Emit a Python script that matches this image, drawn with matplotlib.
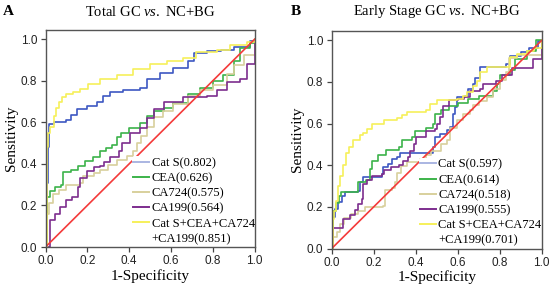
import matplotlib.pyplot as plt
from matplotlib.lines import Line2D

plt.rcParams['font.family'] = 'Liberation Serif'
plt.rcParams['mathtext.fontset'] = 'custom'
plt.rcParams['mathtext.rm'] = 'Liberation Serif'
plt.rcParams['mathtext.it'] = 'Liberation Serif:italic'

# ---- Panel A: Total GC vs. NC+BG  (1-specificity, sensitivity) ----
a_cats_x = [0, 0.005, 0.005, 0.01, 0.015, 0.04, 0.10, 0.12, 0.15, 0.20, 0.245, 0.275, 0.31, 0.37,
            0.45, 0.485, 0.55, 0.61, 0.68, 0.71, 0.775, 0.84, 0.90, 0.98, 1.0]
a_cats_y = [0, 0, 0.31, 0.48, 0.59, 0.60, 0.61, 0.635, 0.665, 0.68, 0.70, 0.725, 0.745, 0.755,
            0.765, 0.81, 0.84, 0.86, 0.895, 0.935, 0.945, 0.95, 0.965, 0.99, 1.0]

a_cea_x = [0, 0.005, 0.02, 0.045, 0.075, 0.085, 0.12, 0.155, 0.19, 0.225, 0.26, 0.29, 0.32, 0.34,
           0.36, 0.40, 0.45, 0.485, 0.52, 0.565, 0.61, 0.68, 0.74, 0.80, 0.85, 0.90, 0.93, 0.98, 1.0]
a_cea_y = [0, 0.24, 0.27, 0.29, 0.30, 0.36, 0.37, 0.39, 0.415, 0.435, 0.46, 0.475, 0.49, 0.53,
           0.55, 0.575, 0.595, 0.63, 0.655, 0.67, 0.695, 0.735, 0.765, 0.80, 0.83, 0.895, 0.96, 0.98, 1.0]

a_ca724_x = [0, 0.005, 0.015, 0.035, 0.065, 0.10, 0.165, 0.18, 0.23, 0.26, 0.30, 0.34, 0.39, 0.42,
             0.44, 0.455, 0.485, 0.52, 0.56, 0.61, 0.68, 0.74, 0.80, 0.87, 0.90, 0.95, 1.0]
a_ca724_y = [0, 0.16, 0.21, 0.255, 0.275, 0.30, 0.31, 0.34, 0.358, 0.37, 0.395, 0.42, 0.44, 0.46,
             0.50, 0.535, 0.58, 0.625, 0.655, 0.69, 0.725, 0.755, 0.78, 0.835, 0.875, 0.925, 1.0]

a_ca199_x = [0, 0.02, 0.045, 0.07, 0.10, 0.126, 0.157, 0.165, 0.20, 0.23, 0.26, 0.28, 0.31, 0.35,
             0.365, 0.405, 0.45, 0.485, 0.52, 0.565, 0.66, 0.775, 0.82, 0.87, 0.93, 0.965, 1.0]
a_ca199_y = [0, 0.13, 0.16, 0.195, 0.225, 0.242, 0.29, 0.33, 0.368, 0.385, 0.39, 0.41, 0.435, 0.46,
             0.50, 0.55, 0.575, 0.62, 0.665, 0.70, 0.72, 0.725, 0.755, 0.795, 0.81, 0.88, 1.0]

a_comb_x = [0, 0.005, 0.008, 0.013, 0.02, 0.04, 0.05, 0.065, 0.08, 0.10, 0.13, 0.165, 0.205, 0.26,
            0.34, 0.42, 0.50, 0.58, 0.66, 0.72, 0.82, 0.885, 0.965, 1.0]
a_comb_y = [0, 0.30, 0.48, 0.55, 0.58, 0.63, 0.67, 0.70, 0.72, 0.735, 0.745, 0.76, 0.785, 0.81,
            0.83, 0.855, 0.88, 0.895, 0.91, 0.94, 0.95, 0.975, 0.985, 1.0]

a_auc = [0.802, 0.626, 0.575, 0.564, 0.851]

# ---- Panel B: Early Stage GC vs. NC+BG ----
b_cats_x = [0, 0.005, 0.008, 0.015, 0.03, 0.048, 0.063, 0.125, 0.135, 0.15, 0.238, 0.246, 0.27,
            0.286, 0.31, 0.325, 0.476, 0.484, 0.49, 0.516, 0.548, 0.563, 0.579, 0.587, 0.595, 0.635,
            0.65, 0.674, 0.682, 0.706, 0.754, 0.83, 0.85, 0.90, 0.94, 0.98, 1.0]
b_cats_y = [0, 0.11, 0.15, 0.19, 0.225, 0.25, 0.27, 0.275, 0.32, 0.345, 0.36, 0.39, 0.405,
            0.43, 0.44, 0.46, 0.46, 0.49, 0.535, 0.55, 0.567, 0.583, 0.647, 0.68, 0.726, 0.734,
            0.766, 0.79, 0.82, 0.87, 0.87, 0.885, 0.925, 0.945, 0.965, 0.995, 1.0]

b_cea_x = [0, 0.005, 0.008, 0.02, 0.035, 0.045, 0.12, 0.127, 0.165, 0.18, 0.19, 0.22, 0.26, 0.32,
           0.335, 0.38, 0.395, 0.45, 0.48, 0.49, 0.52, 0.56, 0.60, 0.65, 0.70, 0.77, 0.785, 0.80,
           0.85, 0.875, 0.93, 0.975, 1.0]
b_cea_y = [0, 0.14, 0.18, 0.22, 0.25, 0.27, 0.27, 0.32, 0.33, 0.38, 0.42, 0.45, 0.475, 0.49,
           0.52, 0.535, 0.565, 0.58, 0.60, 0.645, 0.665, 0.685, 0.70, 0.72, 0.735, 0.755, 0.79, 0.835,
           0.86, 0.91, 0.95, 1.0, 1.0]

b_ca724_x = [0, 0.005, 0.025, 0.04, 0.06, 0.09, 0.125, 0.16, 0.245, 0.252, 0.285, 0.30, 0.31, 0.33,
             0.36, 0.42, 0.45, 0.475, 0.52, 0.55, 0.563, 0.595, 0.627, 0.66, 0.675, 0.70, 0.74, 0.77,
             0.80, 0.83, 0.845, 0.88, 0.97, 1.0]
b_ca724_y = [0, 0.055, 0.08, 0.12, 0.145, 0.165, 0.18, 0.20, 0.205, 0.28, 0.29, 0.32, 0.365, 0.395,
             0.415, 0.43, 0.45, 0.47, 0.50, 0.52, 0.58, 0.615, 0.645, 0.665, 0.69, 0.71, 0.73, 0.765,
             0.81, 0.85, 0.915, 0.93, 0.93, 1.0]

b_ca199_x = [0, 0.005, 0.045, 0.055, 0.085, 0.11, 0.127, 0.143, 0.15, 0.167, 0.19, 0.24, 0.25, 0.28,
             0.32, 0.34, 0.365, 0.375, 0.39, 0.40, 0.45, 0.49, 0.50, 0.515, 0.53, 0.56, 0.60, 0.63,
             0.66, 0.705, 0.72, 0.78, 0.81, 0.86, 0.93, 0.96, 1.0]
b_ca199_y = [0, 0.10, 0.10, 0.14, 0.16, 0.184, 0.216, 0.24, 0.31, 0.328, 0.35, 0.36, 0.375, 0.39,
             0.40, 0.42, 0.44, 0.47, 0.50, 0.535, 0.565, 0.575, 0.60, 0.63, 0.685, 0.715, 0.72, 0.73,
             0.755, 0.765, 0.79, 0.805, 0.835, 0.865, 0.865, 0.91, 1.0]

b_comb_x = [0, 0.005, 0.01, 0.02, 0.03, 0.04, 0.055, 0.07, 0.08, 0.10, 0.135, 0.15, 0.17, 0.19,
            0.25, 0.31, 0.335, 0.36, 0.45, 0.47, 0.50, 0.595, 0.627, 0.643, 0.674, 0.69, 0.706,
            0.738, 0.833, 0.85, 0.88, 0.93, 0.965, 1.0]
b_comb_y = [0, 0.14, 0.18, 0.23, 0.30, 0.35, 0.40, 0.46, 0.49, 0.52, 0.545, 0.555, 0.575, 0.60,
            0.615, 0.625, 0.64, 0.655, 0.665, 0.695, 0.715, 0.72, 0.734, 0.75, 0.782, 0.806, 0.846,
            0.87, 0.87, 0.918, 0.934, 0.95, 0.965, 1.0]

b_auc = [0.597, 0.614, 0.518, 0.555, 0.701]

names = ["Cat S", "CEA", "CA724", "CA199", "Cat S+CEA+CA724"]
colors = ["#3d57c2", "#3cb34a", "#d8d09c", "#7d2d8e", "#f6f05a"]
diag = [0, 1]
ticks = [0, 0.2, 0.4, 0.6, 0.8, 1.0]
tick_labels = ["0.0", "0.2", "0.4", "0.6", "0.8", "1.0"]

panels = [
    ("A", "Total GC $\\it{vs.}$ NC+BG",
     [(a_cats_x, a_cats_y), (a_cea_x, a_cea_y), (a_ca724_x, a_ca724_y),
      (a_ca199_x, a_ca199_y), (a_comb_x, a_comb_y)], a_auc,
     [45.5 / 550, 41 / 288, 209 / 550, 217 / 288], 3),
    ("B", "Early Stage GC $\\it{vs.}$ NC+BG",
     [(b_cats_x, b_cats_y), (b_cea_x, b_cea_y), (b_ca724_x, b_ca724_y),
      (b_ca199_x, b_ca199_y), (b_comb_x, b_comb_y)], b_auc,
     [331.7 / 550, 39.5 / 288, 210 / 550, 217.5 / 288], 291),
]

fig = plt.figure(figsize=(5.5, 2.88), dpi=100)

for letter, title, curves, aucs, rect, lx in panels:
    ax = fig.add_axes(rect)
    for (x, y), c in zip(curves, colors):
        ax.plot(x, y, color=c, lw=1.2, drawstyle="steps-post")
    ax.plot(diag, diag, color="#f43a3a", lw=1.2)

    ax.set_xlim(0, 1.0)
    ax.set_ylim(0, 1.045)
    ax.set_xticks(ticks)
    ax.set_yticks(ticks)
    ax.set_xticklabels(tick_labels, fontfamily="Liberation Sans", fontsize=8.5)
    ax.set_yticklabels(tick_labels, fontfamily="Liberation Sans", fontsize=8.5)
    ax.tick_params(direction="out", length=3.5, width=0.9, color="#444444", pad=2.5,
                   labelcolor="#222222")
    for sp in ax.spines.values():
        sp.set_color("#555555")
        sp.set_linewidth(1.0)

    ax.set_xlabel("1-Specificity", fontsize=11, labelpad=1)
    ax.set_ylabel("Sensitivity", fontsize=11, labelpad=2)

    # legend: split the long combined label over two rows
    handles = [Line2D([], [], color="#aab6e2", lw=1.4)]
    handles += [Line2D([], [], color=c, lw=1.4) for c in colors[1:]]
    handles.append(Line2D([], [], color="none"))
    labels = ["%s(%.3f)" % (n, v) for n, v in zip(names[:4], aucs[:4])]
    labels += [names[4], "+CA199(%.3f)" % aucs[4]]
    leg = ax.legend(handles, labels, loc="lower left", bbox_to_anchor=(0.415, 0.004),
                    fontsize=9, frameon=True, framealpha=1, edgecolor="none",
                    borderpad=0.1, labelspacing=0.25, handlelength=1.25,
                    handletextpad=0.2, borderaxespad=0.0)
    leg.get_frame().set_facecolor("white")
    leg.set_zorder(2.2)

    fig.text(lx / 550, 1 - 15 / 288, letter, fontsize=11, fontweight="bold",
             ha="left", va="baseline")
    cx = rect[0] + rect[2] / 2
    fig.text(cx, 1 - 15.5 / 288, title, fontsize=10.5, ha="center", va="baseline")

fig.savefig("out.png", dpi=100)
